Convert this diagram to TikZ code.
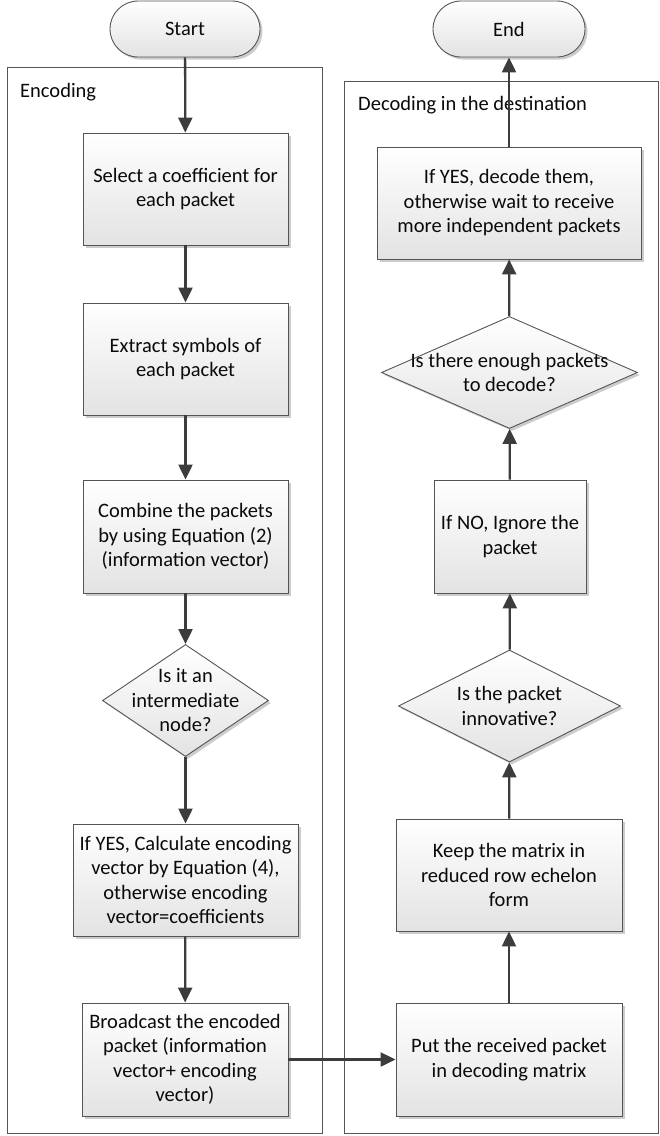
\documentclass[tikz,border=0pt]{standalone}
\usepackage{fontspec}
\setmainfont{Carlito}
\usetikzlibrary{arrows.meta,shapes.geometric,shadows}
\definecolor{linec}{HTML}{3C3C3C}
\definecolor{framec}{HTML}{555555}
\definecolor{txtc}{HTML}{0A0A0A}
\begin{document}
\begin{tikzpicture}[x=1pt,y=-1pt,
  font=\fontsize{20.5}{24.5}\selectfont, text=txtc,
  shadebox/.style={draw=framec, line width=0.9pt, top color=white, bottom color=black!11,
    drop shadow={shadow xshift=2.5pt, shadow yshift=-2.5pt, fill=black!20, opacity=1}},
  proc/.style={shadebox, rectangle, inner sep=0pt, align=center},
  decision/.style={shadebox, diamond, inner sep=0pt},
  term/.style={shadebox, rectangle, rounded corners=28pt, inner sep=0pt, minimum width=150pt, minimum height=56pt},
  dtext/.style={align=center, inner sep=0pt},
  frame/.style={draw=framec, line width=0.9pt},
  arr/.style={draw=linec, line width=2.3pt, -{Triangle[width=14pt,length=15pt]}}
]
\useasboundingbox (0,0) rectangle (660,1136);

% containers
\draw[frame] (7,67) rectangle (322,1133);
\draw[frame] (344,81) rectangle (658.5,1133);
\node[anchor=base west, inner sep=0pt] (enclabel) at (20,97) {Encoding};
\node[anchor=base west, inner sep=0pt] (declabel) at (358,110) {Decoding in the destination};

% terminals
\node[term] (start) at (185,29) {Start};
\node[term, minimum width=152pt] (end) at (509,29) {End};

% left column
\node[proc, minimum width=205pt, minimum height=112pt] (b1) at (185.5,189) {Select a coefficient for\\each packet};
\node[proc, minimum width=205pt, minimum height=112pt] (b2) at (185.5,359) {Extract symbols of\\each packet};
\node[proc, minimum width=205pt, minimum height=113pt] (b3) at (185.5,536.5) {Combine the packets\\by using Equation (2)\\(information vector)};
\node[decision, minimum width=166pt, minimum height=112pt] (d1) at (185.5,700.5) {};
\node[dtext] (d1t) at (d1) {Is it an\\intermediate\\node?};
\node[proc, minimum width=225pt, minimum height=112pt] (b4) at (185.5,880) {If YES, Calculate encoding\\vector by Equation (4),\\otherwise encoding\\vector=coefficients};
\node[proc, minimum width=206pt, minimum height=113pt] (b5) at (185,1059.5) {Broadcast the encoded\\packet (information\\vector+ encoding\\vector)};

% right column
\node[proc, minimum width=264pt, minimum height=112pt] (r1) at (509,203) {If YES, decode them,\\otherwise wait to receive\\more independent packets};
\node[decision, minimum width=256pt, minimum height=112pt] (rd1) at (509.5,372.5) {};
\node[dtext] (rd1t) at (rd1) {Is there enough packets\\to decode?};
\node[proc, minimum width=152pt, minimum height=113pt] (r2) at (510,536.5) {If NO, Ignore the\\packet};
\node[decision, minimum width=222pt, minimum height=112pt] (rd2) at (509.5,706) {};
\node[dtext] (rd2t) at (rd2) {Is the packet\\innovative?};
\node[proc, minimum width=226pt, minimum height=112pt] (r3) at (509,875) {Keep the matrix in\\reduced row echelon\\form};
\node[proc, minimum width=226pt, minimum height=113pt] (r4) at (509,1059.5) {Put the received packet\\in decoding matrix};

% connectors
\draw[arr] (start) -- (b1);
\draw[arr] (b1) -- (b2);
\draw[arr] (b2) -- (b3);
\draw[arr] (b3) -- (d1);
\draw[arr] (d1) -- (b4);
\draw[arr] (b4) -- (b5);
\draw[arr] (b5.east) -- (r4.west);
\draw[arr] (r4) -- (r3);
\draw[arr] (r3) -- (rd2);
\draw[arr] (rd2) -- (r2);
\draw[arr] (r2) -- (rd1);
\draw[arr] (rd1) -- (r1);
\draw[arr] (r1) -- (end);
\end{tikzpicture}
\end{document}
